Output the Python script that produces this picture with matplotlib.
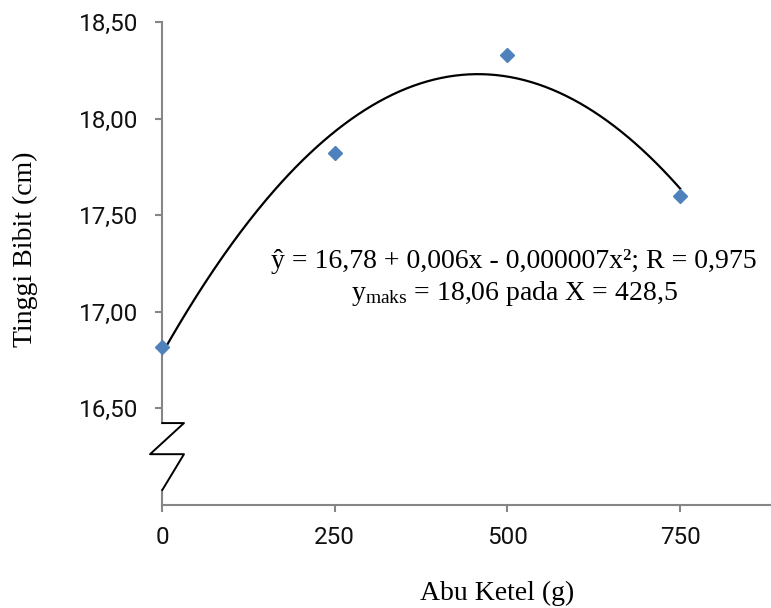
import numpy as np
import matplotlib
matplotlib.use("Agg")
import matplotlib.pyplot as plt

# Data
dose = [0, 250, 500, 750]
height = [16.82, 17.82, 18.33, 17.60]
yticks = [16.50, 17.00, 17.50, 18.00, 18.50]
xticks = [0, 250, 500, 750]
xlabel = "Abu Ketel (g)"
ylabel = "Tinggi Bibit (cm)"
eq1 = "ŷ = 16,78 + 0,006x - 0,000007x²; R = 0,975"
eq2 = r"y$_{\mathrm{maks}}$ = 18,06 pada X = 428,5"

plt.rcParams['mathtext.fontset'] = 'custom'
plt.rcParams['mathtext.rm'] = 'Liberation Serif'
plt.rcParams['mathtext.it'] = 'Liberation Serif:italic'

fig = plt.figure(figsize=(7.71, 6.08), dpi=100)
ax = fig.add_axes([162/771, 1-505/608, (770-162)/771, (505-22)/608])

gray = '#868686'
ax.set_xlim(0, 880)
ax.set_ylim(16.0, 18.5)

# fitted quadratic trendline
coef = np.polyfit(dose, height, 2)
xs = np.linspace(0, 750, 300)
ax.plot(xs, np.polyval(coef, xs), color='black', lw=1.6, zorder=2)
ax.plot(dose, height, linestyle='none', marker='D', markersize=7.6,
        color='#4F81BD', zorder=3, clip_on=False)

for s in ['top', 'right', 'left']:
    ax.spines[s].set_visible(False)
ax.spines['bottom'].set_color(gray)
ax.spines['bottom'].set_linewidth(1.5)

# left axis with break
ax.plot([0, 0], [16.0, 16.078], color=gray, lw=1.5, clip_on=False, zorder=1)
ax.plot([0, 0], [16.424, 18.5], color=gray, lw=1.5, clip_on=False, zorder=1)
ax.plot([0.5, 31.8, -17.3, 31.8, 0.5], [16.424, 16.424, 16.263, 16.263, 16.078],
        color='black', lw=1.4, clip_on=False, zorder=4)

ax.set_xticks(xticks)
ax.set_xticklabels([str(v) for v in xticks])
ax.set_yticks(yticks)
ax.set_yticklabels([f"{v:.2f}".replace('.', ',') for v in yticks])
ax.tick_params(axis='both', direction='out', length=5, width=1.5, color=gray,
               labelsize=17.5)
ax.tick_params(axis='y', pad=12)
ax.tick_params(axis='x', pad=10)
for lab in ax.get_xticklabels() + ax.get_yticklabels():
    lab.set_fontfamily('Roboto')
    lab.set_color('#111111')

serif = 'Liberation Serif'
fig.text(497/771, 1-600/608, xlabel, ha='center', va='baseline',
         family=serif, fontsize=20)
fig.text(25/771, 1-249/608, ylabel, ha='center', va='center', rotation=90,
         family=serif, fontsize=20)

fig.text(514/771, 1-268/608, eq1, ha='center', va='baseline',
         family=serif, fontsize=20)
fig.text(514/771, 1-300/608, eq2, ha='center', va='baseline',
         family=serif, fontsize=20)

fig.savefig('out.png', dpi=100)
